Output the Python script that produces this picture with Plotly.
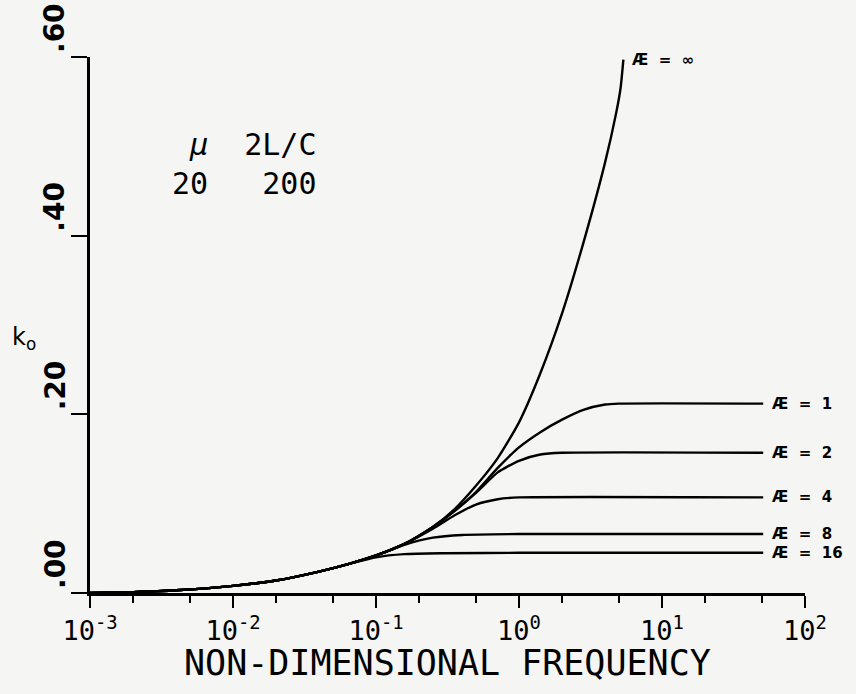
import numpy as np
import plotly.graph_objects as go

# ---- data ----
f_inf = [0.001, 0.002, 0.004, 0.01, 0.02, 0.04, 0.063, 0.1, 0.158, 0.25, 0.355, 0.5, 0.71, 1.0, 1.41, 2.0, 2.82, 4.0, 4.79, 5.13, 5.37]
k_inf = [0.0, 0.001, 0.003, 0.008, 0.014, 0.024, 0.032, 0.042, 0.055, 0.074, 0.094, 0.120, 0.151, 0.191, 0.246, 0.313, 0.392, 0.482, 0.538, 0.565, 0.597]

f_ar1 = [0.001, 0.002, 0.004, 0.01, 0.02, 0.04, 0.063, 0.1, 0.158, 0.25, 0.355, 0.5, 0.71, 1.0, 1.41, 2.0, 2.82, 4.0, 5.0, 51]
k_ar1 = [0.0, 0.001, 0.003, 0.008, 0.014, 0.024, 0.032, 0.042, 0.055, 0.074, 0.092, 0.113, 0.140, 0.163, 0.180, 0.194, 0.205, 0.211, 0.212, 0.212]

f_ar2 = [0.001, 0.002, 0.004, 0.01, 0.02, 0.04, 0.063, 0.1, 0.158, 0.25, 0.355, 0.5, 0.71, 1.0, 1.41, 2.0, 51]
k_ar2 = [0.0, 0.001, 0.003, 0.008, 0.014, 0.024, 0.032, 0.042, 0.055, 0.074, 0.092, 0.112, 0.135, 0.148, 0.155, 0.157, 0.157]

f_ar4 = [0.001, 0.002, 0.004, 0.01, 0.02, 0.04, 0.063, 0.1, 0.158, 0.25, 0.355, 0.5, 0.71, 1.0, 51]
k_ar4 = [0.0, 0.001, 0.003, 0.008, 0.014, 0.024, 0.032, 0.042, 0.055, 0.072, 0.087, 0.099, 0.105, 0.107, 0.107]

f_ar8 = [0.001, 0.002, 0.004, 0.01, 0.02, 0.04, 0.063, 0.1, 0.158, 0.25, 0.4, 1.0, 51]
k_ar8 = [0.0, 0.001, 0.003, 0.008, 0.014, 0.024, 0.032, 0.042, 0.054, 0.062, 0.065, 0.066, 0.066]

f_ar16 = [0.001, 0.002, 0.004, 0.01, 0.02, 0.04, 0.063, 0.1, 0.158, 0.3, 1.0, 51]
k_ar16 = [0.0, 0.001, 0.003, 0.008, 0.014, 0.024, 0.032, 0.040, 0.0435, 0.0445, 0.045, 0.045]

series_names = ["\u221e", "1", "2", "4", "8", "16"]
series_f = [f_inf, f_ar1, f_ar2, f_ar4, f_ar8, f_ar16]
series_k = [k_inf, k_ar1, k_ar2, k_ar4, k_ar8, k_ar16]

x_decades = [-3, -2, -1, 0, 1, 2]
x_ticktext = ["10<sup>-3</sup>", "10<sup>-2</sup>", "10<sup>-1</sup>", "10<sup>0</sup>", "10<sup>1</sup>", "10<sup>2</sup>"]
y_tickvals = [0.0, 0.2, 0.4, 0.6]
y_ticktext = [".00", ".20", ".40", ".60"]

x_title = "NON-DIMENSIONAL FREQUENCY"
y_title = "k<sub>o</sub>"
inset_lines = ["\u00a0<i>\u03bc</i>\u00a0\u00a02L/C", "20\u00a0\u00a0\u00a0200"]

# ---- figure ----
BG = "#f5f5f3"
MONO = "DejaVu Sans Mono"
fig = go.Figure()

for name, f, k in zip(series_names, series_f, series_k):
    fig.add_trace(go.Scatter(
        x=f, y=k, mode="lines", name=name, showlegend=False,
        line=dict(color="black", width=2.4, shape="spline", smoothing=0.6),
        hoverinfo="skip"))
    fig.add_annotation(
        x=np.log10(f[-1]), y=k[-1], xref="x", yref="y",
        text="<b>\u00c6\u2002\u2009=\u2002\u2009" + name + "</b>", showarrow=False,
        xanchor="left", yanchor="middle", xshift=7,
        font=dict(family="DejaVu Sans", size=15, color="black"))

# y tick labels (rotated, starting at the tick)
for v, t in zip(y_tickvals, y_ticktext):
    fig.add_annotation(
        x=0, y=v, xref="paper", yref="y", text="<b>" + t + "</b>",
        showarrow=False, textangle=-90, xanchor="center", yanchor="bottom",
        xshift=-35, yshift=2,
        font=dict(family="DejaVu Sans", size=28, color="black"))

fig.add_annotation(
    x=0, y=0.475, xref="paper", yref="paper", text=y_title, showarrow=False,
    xanchor="center", yanchor="middle", xshift=-66,
    font=dict(family="DejaVu Sans", size=24, color="black"))

fig.add_annotation(
    x=0.112, y=0.80, xref="paper", yref="paper",
    text="<br>".join(inset_lines), showarrow=False, align="left",
    xanchor="left", yanchor="middle",
    font=dict(family=MONO, size=30, color="black"))

fig.add_annotation(
    x=0.5, y=-0.131, xref="paper", yref="paper", text=x_title, showarrow=False,
    xanchor="center", yanchor="middle",
    font=dict(family=MONO, size=35, color="black"))

minor_vals = [m * 10.0 ** d for d in x_decades[:-1] for m in (2, 5)]

fig.update_layout(
    width=856, height=694,
    margin=dict(l=90, r=51, t=57, b=101),
    paper_bgcolor=BG, plot_bgcolor=BG,
    xaxis=dict(
        type="log", range=[-3, 2], autorange=False,
        tickmode="array", tickvals=[10.0 ** d for d in x_decades], ticktext=x_ticktext,
        ticks="outside", ticklen=12, tickwidth=2, tickcolor="black",
        minor=dict(tickmode="array", tickvals=minor_vals, ticks="outside",
                   ticklen=7, tickwidth=2, tickcolor="black", showgrid=False),
        showline=True, linecolor="black", linewidth=2.5,
        showgrid=False, zeroline=False,
        tickfont=dict(family=MONO, size=27, color="black"),
        automargin=False),
    yaxis=dict(
        range=[0, 0.6], autorange=False,
        tickmode="array", tickvals=y_tickvals, showticklabels=False,
        ticks="outside", ticklen=16, tickwidth=2, tickcolor="black",
        showline=True, linecolor="black", linewidth=2.5,
        showgrid=False, zeroline=False, automargin=False),
)

fig.write_html(
    "out.html",
    config={"displayModeBar": False},
    post_script="document.body.style.margin='0';document.body.style.background='" + BG + "';",
)
